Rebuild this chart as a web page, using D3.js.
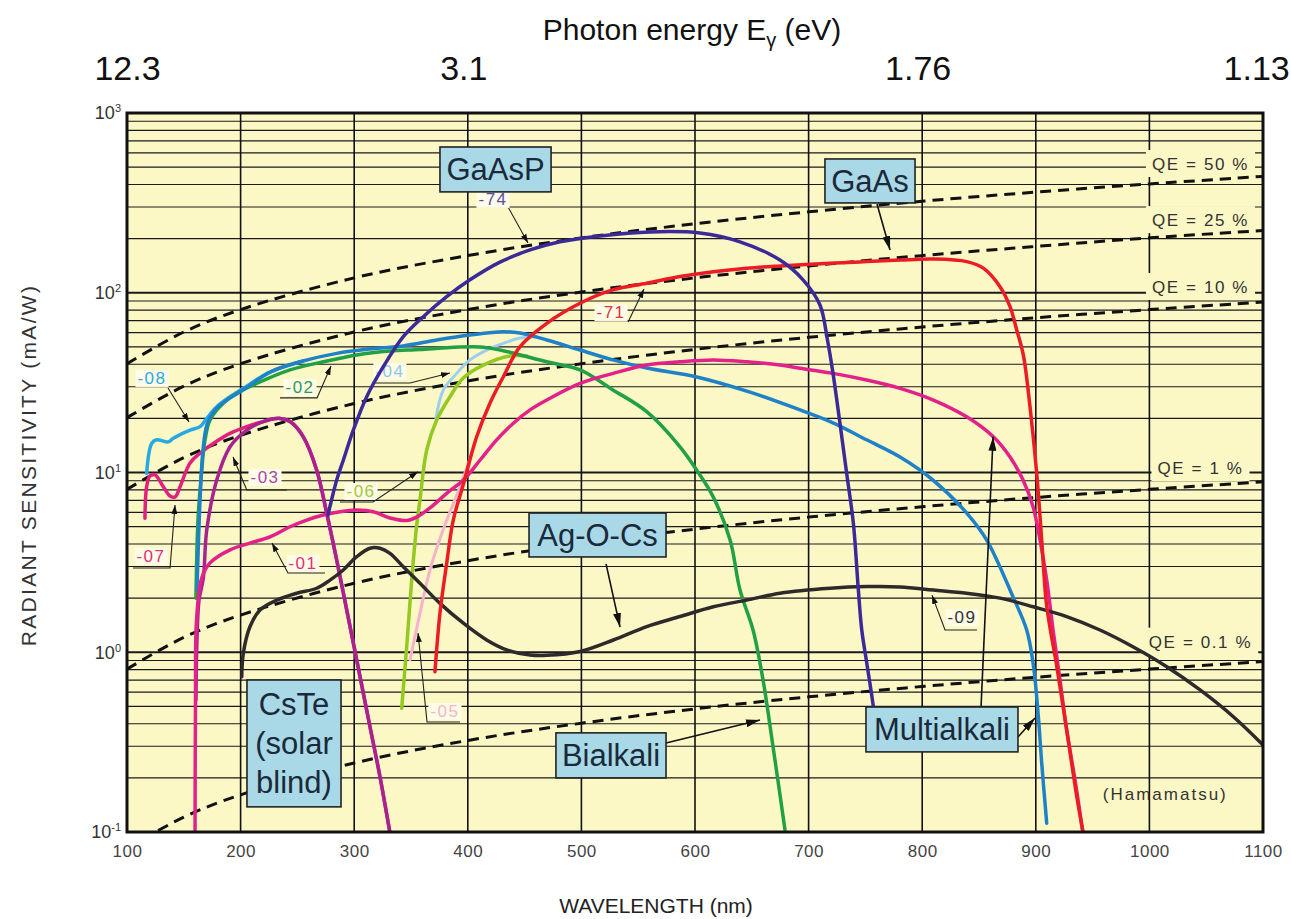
<!DOCTYPE html>
<html>
<head>
<meta charset="utf-8">
<title>Photocathode spectral response</title>
<script src="https://cdn.jsdelivr.net/npm/d3@7/dist/d3.min.js"></script>
<style>
  html, body { margin: 0; padding: 0; background: #ffffff; }
  svg { display: block; font-family: "Liberation Sans", Arial, Helvetica, sans-serif; }
</style>
</head>
<body>
<svg id="chart" width="1291" height="919"></svg>
<script>
// ---------- axis ticks ----------
const wavelengthTicks = [100, 200, 300, 400, 500, 600, 700, 800, 900, 1000, 1100];
const energyTickNm = [100, 396, 796, 1094];
const energyTickLabels = ["12.3", "3.1", "1.76", "1.13"];
const decadeTicks = [0.1, 1, 10, 100, 1000];
const decadeExponents = ["-1", "0", "1", "2", "3"];

// ---------- constant quantum-efficiency lines (mA/W) ----------
const qeNm   = [100, 150, 200, 300, 400, 500, 600, 700, 800, 900, 1000, 1100];
const qe50   = [40.3, 60.5, 80.6, 121, 161, 202, 242, 282, 323, 363, 403, 444];
const qe25   = [20.2, 30.2, 40.3, 60.5, 80.6, 101, 121, 141, 161, 181, 202, 222];
const qe10   = [8.06, 12.1, 16.1, 24.2, 32.3, 40.3, 48.4, 56.5, 64.5, 72.6, 80.6, 88.7];
const qe1    = [0.806, 1.21, 1.61, 2.42, 3.23, 4.03, 4.84, 5.65, 6.45, 7.26, 8.06, 8.87];
const qe01   = [0.081, 0.121, 0.161, 0.242, 0.323, 0.403, 0.484, 0.565, 0.645, 0.726, 0.806, 0.887];
const qeLabels = ["QE = 50 %", "QE = 25 %", "QE = 10 %", "QE = 1 %", "QE = 0.1 %"];
const qeLabelNm = 1045;
const qeLabelSens = [482, 235, 99.7, 9.81, 1.06];

// ---------- photocathode curves: wavelength (nm) / radiant sensitivity (mA/W) ----------
const nm08   = [117.3, 121.7, 126.1, 136.4, 140.8, 155.5, 164.3, 170.2, 179.0, 190.7, 202.4, 225.9, 254.9];
const sens08 = [9.9, 14.5, 15.2, 14.8, 15.5, 17.2, 18.0, 20.0, 23.2, 26.4, 29.4, 36.2, 41.7];

const nmMA   = [161.6, 164.3, 166.9, 170.4, 177.5, 190.7, 202.1, 225.9, 254.9, 284.6, 313.9, 343.0, 372.6, 401.9, 431.0, 446.0, 469.5, 498.8, 527.8, 557.5, 601.5, 648.4, 692.5, 721.5, 751.1, 780.5, 809.5, 839.2, 856.8, 880.0, 892.0, 897.6, 902.0, 905.2, 909.6];
const sensMA = [2.22, 7.03, 13.3, 18.4, 22.3, 26.0, 28.8, 36.2, 41.7, 46.0, 48.7, 50.6, 54.6, 58.2, 60.7, 59.7, 54.6, 48.0, 42.3, 38.1, 34.0, 28.0, 22.3, 18.9, 15.2, 12.2, 9.08, 5.95, 4.21, 2.03, 1.33, 0.871, 0.459, 0.242, 0.112];

const nm02   = [160.7, 162.5, 165.8, 168.7, 173.1, 184.8, 199.5, 214.2, 243.5, 272.8, 302.2, 331.5, 357.9, 384.3, 410.7, 428.3, 439.8, 469.5, 498.8, 527.8, 557.5, 586.8, 601.5, 615.9, 630.9, 639.6, 651.1, 659.9, 668.7, 679.2];
const sens02 = [2.00, 5.44, 10.3, 15.2, 19.6, 24.3, 28.2, 31.3, 37.2, 41.3, 45.1, 47.4, 48.3, 49.6, 49.9, 48.0, 46.2, 41.3, 37.2, 28.8, 21.8, 13.9, 10.3, 7.34, 4.21, 2.22, 1.33, 0.701, 0.298, 0.103];

const nm07   = [115.8, 117.3, 120.2, 124.6, 132.0, 137.9, 142.3, 146.7, 155.5, 164.3, 176.0, 190.7, 205.4, 219.7, 234.7, 243.5, 255.2, 267.0, 275.8, 284.6, 293.4, 302.2, 313.9, 322.7, 331.5];
const sens07 = [5.56, 8.34, 9.56, 9.69, 8.34, 7.40, 7.31, 8.34, 11.3, 12.8, 14.5, 16.5, 18.0, 19.2, 20.0, 19.2, 15.8, 10.3, 5.95, 3.26, 1.72, 0.906, 0.385, 0.203, 0.0987];

const nm03   = [160.7, 161.6, 163.4, 167.2, 170.2, 179.0, 190.7, 205.4, 220.0, 234.7, 243.5, 255.2, 267.0, 275.8, 284.6, 293.4, 302.2, 313.9, 322.7, 331.5];
const sens03 = [0.542, 1.17, 1.95, 2.59, 4.79, 9.08, 13.9, 17.2, 19.2, 20.0, 19.2, 15.8, 10.3, 5.95, 3.26, 1.72, 0.906, 0.385, 0.203, 0.0987];

const nm01   = [159.9, 160.3, 161.2, 165.8, 173.1, 190.7, 208.3, 225.9, 243.5, 258.2, 272.8, 287.5, 302.2, 316.8, 331.5, 346.2, 355.0, 366.7, 381.4, 396.1, 410.7, 425.4, 440.1, 454.8, 469.5, 498.8, 528.1, 557.5, 586.8, 616.1, 645.5, 674.8, 692.5, 721.5, 751.1, 780.5, 809.8, 839.2, 862.6, 877.3, 888.8, 897.6, 903.7, 909.6, 915.2, 921.3, 927.2, 934.5, 941.6];
const sens01 = [0.098, 0.542, 1.51, 2.59, 3.14, 3.71, 4.05, 4.39, 4.99, 5.44, 5.80, 6.05, 6.18, 6.05, 5.58, 5.41, 5.65, 6.35, 7.66, 9.08, 11.7, 15.2, 18.8, 22.3, 25.3, 31.3, 35.6, 39.6, 41.3, 42.3, 41.3, 39.6, 38.0, 35.6, 32.7, 29.4, 25.3, 20.4, 15.8, 12.2, 9.08, 6.45, 4.21, 2.52, 1.33, 0.701, 0.369, 0.195, 0.098];

const nm71   = [371.1, 375.5, 381.4, 387.2, 396.1, 407.8, 419.5, 431.3, 446.0, 469.5, 498.8, 528.1, 557.5, 586.8, 616.1, 645.5, 674.8, 718.8, 751.1, 780.5, 809.8, 839.2, 853.8, 868.5, 877.3, 883.2, 889.0, 894.9, 900.8, 905.2, 909.0, 912.1, 918.0, 927.2, 936.1, 941.8];
const sens71 = [0.78, 1.65, 3.12, 5.44, 8.6, 15.8, 24.3, 34.1, 50.1, 67.6, 87.4, 104, 113, 123, 131, 137, 141, 146, 149, 152, 154, 149, 137, 108, 83.6, 62.1, 45.1, 23.2, 9.9, 4.21, 1.95, 1.42, 0.871, 0.369, 0.157, 0.098];

const nm74   = [276.9, 284.6, 290.4, 299.2, 311.0, 325.6, 343.2, 360.8, 381.4, 401.9, 428.3, 454.8, 481.2, 516.4, 560.4, 604.4, 639.6, 674.8, 695.1, 710.0, 716.6, 721.5, 727.6, 733.5, 739.4, 743.8, 746.8, 751.2, 757.0, 761.1];
const sens74 = [5.80, 9.08, 11.7, 17.2, 26.4, 38.8, 57.0, 73.6, 95.1, 118, 148, 173, 192, 207, 218, 215, 192, 152, 118, 85.5, 54.6, 35.6, 18.8, 9.9, 5.22, 2.22, 1.33, 0.871, 0.498, 0.286];

const nm09   = [201.0, 202.4, 208.3, 217.1, 231.8, 249.4, 267.0, 278.7, 290.4, 302.2, 313.9, 322.7, 331.5, 343.2, 357.9, 375.5, 396.1, 416.6, 434.3, 454.8, 469.5, 498.8, 528.1, 557.5, 586.8, 616.1, 645.5, 674.8, 718.8, 751.1, 780.5, 809.8, 839.2, 868.5, 897.8, 927.2, 956.5, 985.9, 1015.3, 1044.6, 1073.9, 1100];
const sens09 = [0.731, 0.987, 1.39, 1.72, 1.95, 2.13, 2.27, 2.52, 2.87, 3.40, 3.79, 3.79, 3.55, 2.99, 2.42, 1.87, 1.45, 1.17, 1.03, 0.965, 0.961, 1.01, 1.17, 1.39, 1.58, 1.79, 1.95, 2.13, 2.27, 2.32, 2.31, 2.22, 2.13, 2.00, 1.79, 1.58, 1.33, 1.07, 0.831, 0.617, 0.438, 0.305];

const nm06   = [341.8, 346.2, 350.6, 355.0, 357.9, 363.8, 372.6, 384.3, 396.0, 413.6, 437.1, 452.0];
const sens06 = [0.488, 1.07, 2.52, 5.10, 7.03, 13.3, 19.6, 26.4, 33.6, 39.6, 44.5, 44.5];

const nm04   = [372.0, 378.5, 390.2, 401.9, 416.6, 431.3, 446.0, 460.0];
const sens04 = [20.0, 28.8, 35.6, 42.3, 48.0, 52.3, 56.0, 57.0];

const nm05   = [349.1, 357.9, 366.7, 378.2, 393.1, 402.0];
const sens05 = [0.906, 1.65, 2.87, 4.79, 8.31, 12.0];

// ---------- curve code labels with leader lines ----------
const codeText   = ["-74", "-71", "-08", "-02", "-03", "-07", "-01", "-06", "-04", "-05", "-09"];
const codeNm     = [422.2, 526.1, 122.0, 252.3, 221.5, 121.1, 254.9, 306.0, 331.5, 379.9, 835.0];
const codeSens   = [308, 72.4, 31.1, 27.7, 8.74, 3.18, 2.90, 7.31, 34.0, 0.436, 1.45];
const codeLeaders = [
  [[435.4, 300], [453.0, 189]],
  [[541.1, 68.8], [555.1, 105]],
  [[136.1, 29.5], [154.6, 19.1]],
  [[234.7, 26.0], [267.3, 26.0], [279.6, 39.1]],
  [[240.6, 7.99], [205.4, 7.99], [193.3, 12.2]],
  [[105.3, 2.94], [137.9, 2.94], [142.3, 6.60]],
  [[274.3, 2.76], [241.7, 2.76], [227.6, 4.05]],
  [[287.5, 6.85], [316.6, 6.85], [356.2, 10.1]],
  [[316.6, 31.5], [349.1, 31.5], [384.3, 35.8]],
  [[393.1, 0.409], [364.1, 0.409], [356.2, 1.28]],
  [[848.2, 1.33], [820.1, 1.33], [808.6, 2.08]]
];
const codeColor = ["#5A4FA5", "#E0353A", "#2AA9E0", "#2E9B4E", "#A54AA5", "#E0307A", "#E0307A", "#A0C840", "#8FC7EA", "#F0B8CC", "#333333"];

// ---------- photocathode material boxes ----------
const boxText  = [["GaAsP"], ["GaAs"], ["Ag-O-Cs"], ["CsTe", "(solar", "blind)"], ["Bialkali"], ["Multialkali"]];
const boxNm    = [[375.5, 473.3], [714.4, 793.7], [453.9, 574.5], [205.6, 288.4], [477.6, 574.5], [750.5, 884.3]];
const boxSens  = [[647, 364], [555, 316], [5.95, 3.39], [0.701, 0.138], [0.356, 0.200], [0.496, 0.279]];
const boxArrows = [
  [[760.2, 312], [771.7, 173]],
  [[521.7, 3.10], [534.0, 1.38]],
  [[574.5, 0.313], [657.2, 0.420]],
  [[851.8, 0.496], [862.4, 15.8]],
  [[884.3, 0.338], [899.3, 0.431]]
];
const sourceNote = "(Hamamatsu)";
const sourceNoteNm = 1014, sourceNoteSens = 0.151;

// ---------- scales ----------
const svg = d3.select("#chart");
const x = d3.scaleLinear().domain([100, 1100]).range([127, 1263]);
const y = d3.scaleLog().domain([0.1, 1000]).range([832, 113]);
const plotL = x(100), plotR = x(1100), plotT = y(1000), plotB = y(0.1);

const defs = svg.append("defs");
defs.append("clipPath").attr("id", "plotClip")
  .append("rect").attr("x", plotL).attr("y", plotT)
  .attr("width", plotR - plotL).attr("height", plotB - plotT);
function addArrow(id, w, h) {
  defs.append("marker").attr("id", id)
    .attr("viewBox", `0 0 ${w} ${h}`).attr("refX", w).attr("refY", h / 2)
    .attr("markerWidth", w).attr("markerHeight", h)
    .attr("markerUnits", "userSpaceOnUse").attr("orient", "auto")
    .append("path").attr("d", `M0,0 L${w},${h / 2} L0,${h} Z`).attr("fill", "#111");
}
addArrow("arrowSmall", 9, 6);
addArrow("arrowBig", 14, 8);

const gBack = svg.append("g");
const gGrid = svg.append("g");
const gMask = svg.append("g");
const gQE = svg.append("g").attr("clip-path", "url(#plotClip)");
const gCode = svg.append("g");
const gCurves = svg.append("g").attr("clip-path", "url(#plotClip)");
const gBoxes = svg.append("g");
const gText = svg.append("g");
const gFrame = svg.append("g");

const plotFill = "#FCF8C6";
gBack.append("rect").attr("x", plotL).attr("y", plotT)
  .attr("width", plotR - plotL).attr("height", plotB - plotT).attr("fill", plotFill);

// ---------- grid ----------
const isDecade = d => Math.abs(Math.log10(d) - Math.round(Math.log10(d))) < 1e-6;
gGrid.selectAll("line.h").data(y.ticks()).join("line").attr("class", "h")
  .attr("x1", plotL).attr("x2", plotR)
  .attr("y1", d => y(d)).attr("y2", d => y(d))
  .attr("stroke", "#1a1a1a").attr("stroke-width", d => isDecade(d) ? 1.8 : 1.1);
gGrid.selectAll("line.v").data(wavelengthTicks.slice(1, -1)).join("line").attr("class", "v")
  .attr("y1", plotT).attr("y2", plotB)
  .attr("x1", d => x(d)).attr("x2", d => x(d))
  .attr("stroke", "#111").attr("stroke-width", 1.6);

// ---------- QE reference lines ----------
const smooth = d3.line().x(d => x(d[0])).y(d => y(d[1])).curve(d3.curveCatmullRom.alpha(0.5));
[qe50, qe25, qe10, qe1, qe01].forEach(vals => {
  gQE.append("path").datum(qeNm.map((n, i) => [n, vals[i]]))
    .attr("d", smooth).attr("fill", "none")
    .attr("stroke", "#111").attr("stroke-width", 3)
    .attr("stroke-dasharray", "11,7");
});

// QE labels sit on a plain patch that interrupts the grid
qeLabels.forEach((t, i) => {
  const txt = gText.append("text")
    .attr("x", x(qeLabelNm)).attr("y", y(qeLabelSens[i]))
    .attr("text-anchor", "middle").attr("font-size", 17)
    .attr("letter-spacing", 1.6).attr("fill", "#333").text(t);
  const b = txt.node().getBBox();
  gMask.append("rect").attr("x", b.x - 6).attr("y", b.y - 5)
    .attr("width", Math.min(b.width + 12, plotR - 2 - (b.x - 6))).attr("height", b.height + 8)
    .attr("fill", plotFill);
});

// ---------- code labels ----------
const leaderLine = d3.line().x(d => x(d[0])).y(d => y(d[1]));
codeText.forEach((t, i) => {
  gCode.append("path").datum(codeLeaders[i]).attr("d", leaderLine)
    .attr("fill", "none").attr("stroke", "#222").attr("stroke-width", 1.1)
    .attr("marker-end", "url(#arrowSmall)");
  const txt = gCode.append("text")
    .attr("x", x(codeNm[i])).attr("y", y(codeSens[i]))
    .attr("text-anchor", "middle").attr("font-size", 17)
    .attr("letter-spacing", 1.5).attr("fill", codeColor[i]).text(t);
  const b = txt.node().getBBox();
  gCode.insert("rect", "text").attr("x", b.x - 2).attr("y", b.y + 1)
    .attr("width", b.width + 4).attr("height", b.height - 2)
    .attr("fill", "#FEFCE6");
});

// ---------- photocathode curves ----------
const curves = [
  { nm: nm08, sens: sens08, color: "#27A9E1", width: 3.5 },
  { nm: nm07, sens: sens07, color: "#E2207E", width: 3.5 },
  { nm: nm03, sens: sens03, color: "#A8238F", width: 3.5 },
  { nm: nm05, sens: sens05, color: "#F4B2CC", width: 3 },
  { nm: nm04, sens: sens04, color: "#9CCFEE", width: 3 },
  { nm: nm06, sens: sens06, color: "#93C920", width: 3.5 },
  { nm: nm02, sens: sens02, color: "#21A045", width: 3.5 },
  { nm: nmMA, sens: sensMA, color: "#1F82C8", width: 3.5 },
  { nm: nm01, sens: sens01, color: "#E2228A", width: 3.5 },
  { nm: nm09, sens: sens09, color: "#2E2A2C", width: 3.5 },
  { nm: nm71, sens: sens71, color: "#EC1C24", width: 3.5 },
  { nm: nm74, sens: sens74, color: "#3C2A98", width: 3.5 }
];
curves.forEach(c => {
  gCurves.append("path").datum(c.nm.map((n, i) => [n, c.sens[i]]))
    .attr("d", smooth).attr("fill", "none")
    .attr("stroke", c.color).attr("stroke-width", c.width)
    .attr("stroke-linejoin", "round").attr("stroke-linecap", "round");
});

// ---------- material boxes and arrows ----------
boxArrows.forEach(a => {
  gBoxes.append("path").datum(a).attr("d", leaderLine)
    .attr("fill", "none").attr("stroke", "#111").attr("stroke-width", 1.6)
    .attr("marker-end", "url(#arrowBig)");
});
boxText.forEach((lines, i) => {
  const x0 = x(boxNm[i][0]), x1 = x(boxNm[i][1]);
  const y0 = y(boxSens[i][0]), y1 = y(boxSens[i][1]);
  gBoxes.append("rect").attr("x", x0).attr("y", y0)
    .attr("width", x1 - x0).attr("height", y1 - y0)
    .attr("fill", "#A9D8E7").attr("stroke", "#222").attr("stroke-width", 1.6);
  const lh = 39;
  const first = (y0 + y1) / 2 - (lines.length - 1) * lh / 2 + 11;
  lines.forEach((s, k) => {
    gBoxes.append("text").attr("x", (x0 + x1) / 2).attr("y", first + k * lh)
      .attr("text-anchor", "middle").attr("font-size", 31)
      .attr("fill", "#1B2A3A").text(s);
  });
});

gText.append("text").attr("x", x(sourceNoteNm)).attr("y", y(sourceNoteSens))
  .attr("text-anchor", "middle").attr("font-size", 17).attr("letter-spacing", 2)
  .attr("fill", "#333").text(sourceNote);

// ---------- frame ----------
gFrame.append("rect").attr("x", plotL).attr("y", plotT)
  .attr("width", plotR - plotL).attr("height", plotB - plotT)
  .attr("fill", "none").attr("stroke", "#111").attr("stroke-width", 3);

// ---------- axes ----------
const bottomAxis = svg.append("g").attr("transform", `translate(0,${plotB})`)
  .call(d3.axisBottom(x).tickValues(wavelengthTicks).tickFormat(d3.format("d"))
    .tickSize(0).tickPadding(13));
bottomAxis.select(".domain").remove();
bottomAxis.selectAll("text").attr("font-size", 17).attr("fill", "#444")
  .attr("font-family", "Liberation Sans, Arial, sans-serif").attr("letter-spacing", 0.5);

const topAxis = svg.append("g").attr("transform", "translate(0,80)")
  .call(d3.axisTop(x).tickValues(energyTickNm).tickFormat((d, i) => energyTickLabels[i]).tickSize(0).tickPadding(0));
topAxis.select(".domain").remove();
topAxis.selectAll("text").attr("font-size", 34).attr("fill", "#111")
  .attr("font-family", "Liberation Sans, Arial, sans-serif").attr("dy", 0);

const leftAxis = svg.append("g").attr("transform", `translate(${plotL},0)`)
  .call(d3.axisLeft(y).tickValues(decadeTicks).tickSize(0).tickPadding(6));
leftAxis.select(".domain").remove();
leftAxis.selectAll("text").each(function (d, i) {
  const t = d3.select(this).text("")
    .attr("font-size", 18).attr("fill", "#333")
    .attr("font-family", "Liberation Sans, Arial, sans-serif");
  t.append("tspan").text("10");
  t.append("tspan").attr("dy", -7).attr("font-size", 11).text(decadeExponents[i]);
});

// ---------- titles ----------
const topTitle = svg.append("text").attr("x", 692).attr("y", 40)
  .attr("text-anchor", "middle").attr("font-size", 30).attr("fill", "#111");
topTitle.append("tspan").text("Photon energy E");
topTitle.append("tspan").attr("dy", 7).attr("font-size", 20).text("γ");
topTitle.append("tspan").attr("dy", -7).text(" (eV)");

svg.append("text").attr("x", 656).attr("y", 913)
  .attr("text-anchor", "middle").attr("font-size", 21).attr("fill", "#222")
  .text("WAVELENGTH (nm)");

svg.append("text").attr("transform", "translate(36,465) rotate(-90)")
  .attr("text-anchor", "middle").attr("font-size", 21).attr("letter-spacing", 2.3)
  .attr("fill", "#333").text("RADIANT SENSITIVITY (mA/W)");
</script>
</body>
</html>
